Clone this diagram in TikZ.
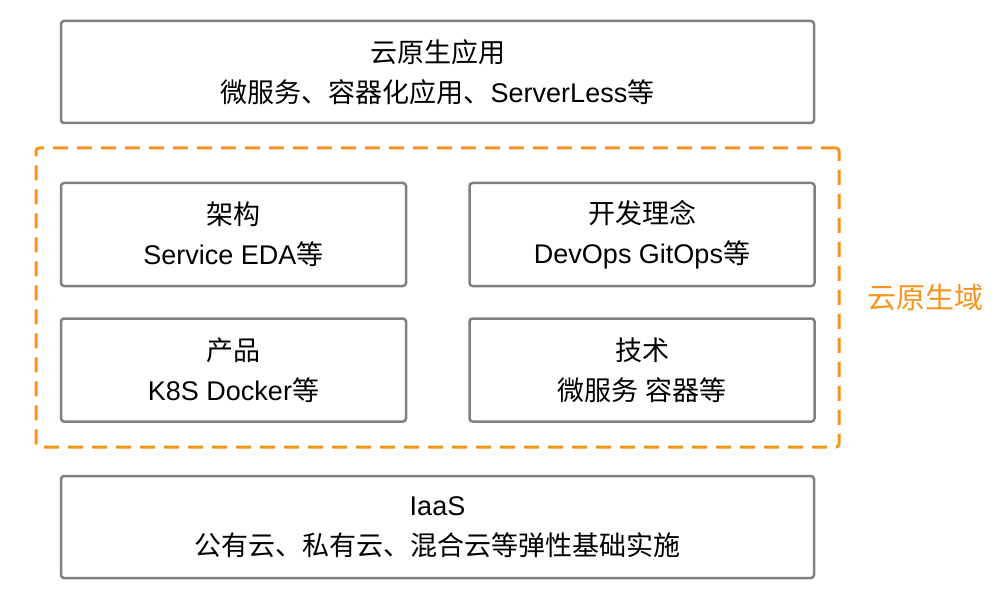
\documentclass[tikz,border=0pt]{standalone}
\usepackage{fontspec}
\setmainfont{Liberation Sans}
\newfontfamily\cjk{Noto Sans CJK SC}
\definecolor{boxgray}{RGB}{128,128,128}
\definecolor{domorange}{RGB}{247,148,30}

\begin{document}
\begin{tikzpicture}[x=1pt,y=-1pt,
	layer/.style={draw=boxgray, line width=2.5pt, rounded corners=3pt,
		align=center, inner sep=0pt, font=\fontsize{27}{40}\selectfont},
	wide/.style={layer, minimum width=753pt, minimum height=102pt},
	half/.style={layer, minimum width=345pt, minimum height=103pt}]
	\useasboundingbox (0,0) rectangle (1006,596);
	%domain
	\node[draw=domorange, line width=3pt, dash pattern=on 15pt off 9pt,
		rounded corners=3pt, minimum width=803pt, minimum height=299pt,
		inner sep=0pt] (domain) at (437.5,297.5) {};
	\node[text=domorange, font=\cjk\fontsize{29}{34}\selectfont, anchor=west]
		(domlabel) at (864,298) {云原生域};
	%layers
	\node[wide] (app) at (437.5,72)
	{{\cjk 云原生应用}\\{\cjk 微服务、容器化应用、}ServerLess{\cjk 等}};
	\node[half] (arch) at (233.5,234.5)
	{{\cjk 架构}\\Service EDA{\cjk 等}};
	\node[half] (idea) at (642,234.5)
	{{\cjk 开发理念}\\DevOps GitOps{\cjk 等}};
	\node[half] (prod) at (233.5,370)
	{{\cjk 产品}\\K8S Docker{\cjk 等}};
	\node[half] (tech) at (642,370)
	{{\cjk 技术}\\{\cjk 微服务 容器等}};
	\node[wide] (iaas) at (437.5,527)
	{IaaS\\{\cjk 公有云、私有云、混合云等弹性基础实施}};
\end{tikzpicture}
\end{document}
